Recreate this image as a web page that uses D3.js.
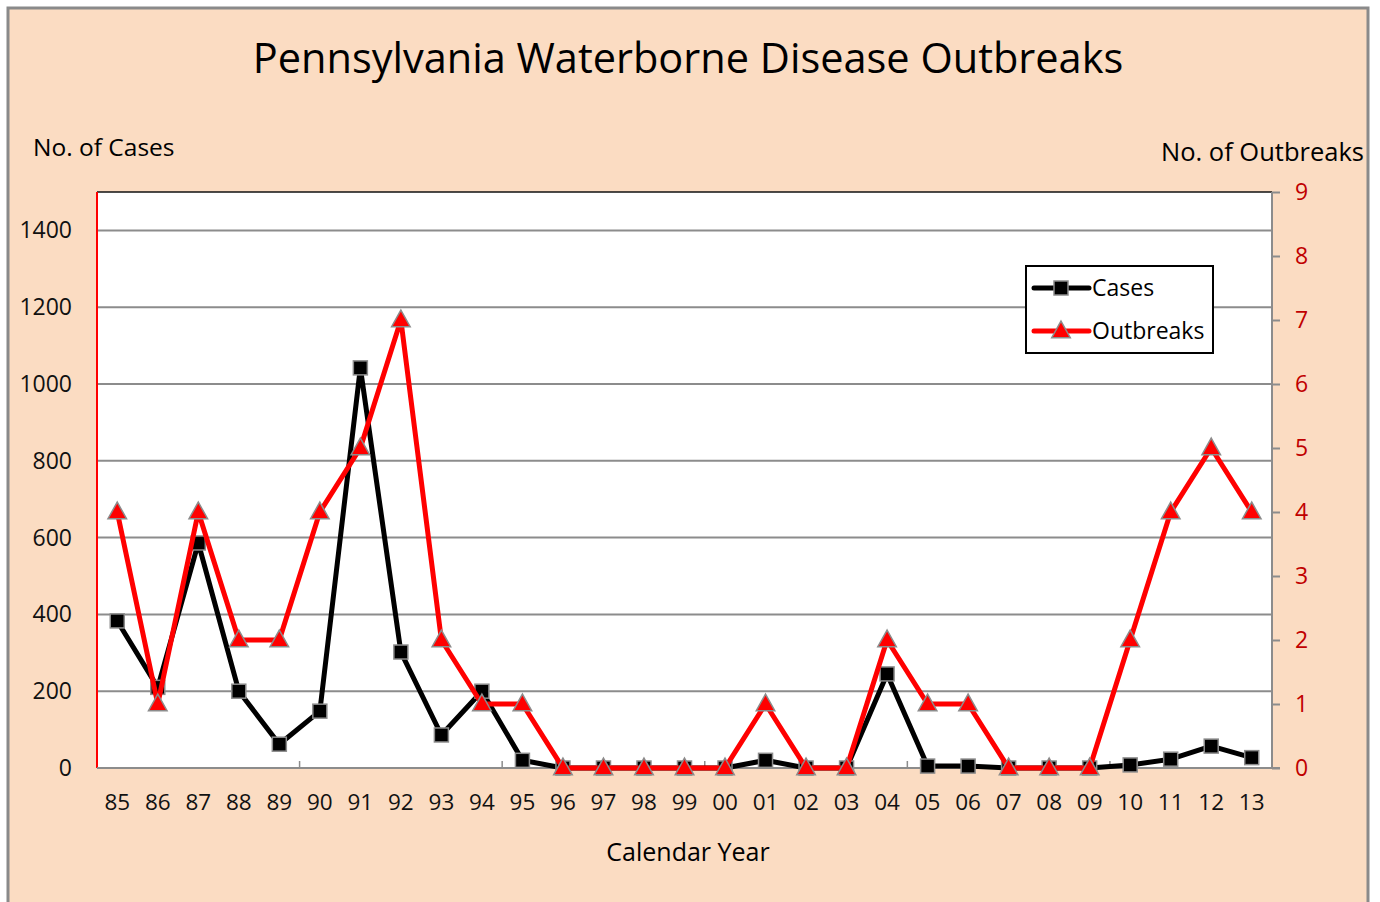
<!DOCTYPE html>
<html>
<head>
<meta charset="utf-8">
<script src="https://cdn.jsdelivr.net/npm/d3@7"></script>
<style>
  html, body { margin: 0; padding: 0; background: #fff; }
  svg { display: block; }
  text { font-family: "Open Sans", "Lato", "DejaVu Sans", sans-serif; }
</style>
</head>
<body>
<script>
const years = ["85","86","87","88","89","90","91","92","93","94","95","96","97","98","99","00","01","02","03","04","05","06","07","08","09","10","11","12","13"];
const cases = [383, 210, 586, 200, 62, 148, 1042, 302, 86, 200, 20, 0, 0, 0, 0, 0, 20, 0, 0, 245, 5, 5, 0, 0, 0, 8, 23, 57, 27];
const outbreaks = [4, 1, 4, 2, 2, 4, 5, 7, 2, 1, 1, 0, 0, 0, 0, 0, 1, 0, 0, 2, 1, 1, 0, 0, 0, 2, 4, 5, 4];
const leftTicks = [0, 200, 400, 600, 800, 1000, 1200, 1400];
const rightTicks = [0, 1, 2, 3, 4, 5, 6, 7, 8, 9];
const seriesNames = ["Cases", "Outbreaks"];

const W = 1380, H = 902;
const L = 97, R = 1272, T = 192, B = 768;
const bg = "#FBDCC2";

const svg = d3.select("body").append("svg").attr("width", W).attr("height", H);
svg.append("rect").attr("width", W).attr("height", H).attr("fill", "#fff");
svg.append("rect").attr("x", 8).attr("y", 8).attr("width", 1360).attr("height", 900)
  .attr("fill", bg).attr("stroke", "#8a8a8a").attr("stroke-width", 3);

// plot area
svg.append("rect").attr("x", L).attr("y", T).attr("width", R - L).attr("height", B - T).attr("fill", "#fff");

const x = d3.scaleBand().domain(years).range([L, R]).padding(0);
const yL = d3.scaleLinear().domain([0, 1500]).range([B, T]);
const yR = d3.scaleLinear().domain([0, 9]).range([B, T]);
const cx = d => x(d) + x.bandwidth() / 2;

// gridlines
svg.append("g").selectAll("line").data(leftTicks.filter(v => v > 0)).join("line")
  .attr("x1", L).attr("x2", R).attr("y1", d => yL(d)).attr("y2", d => yL(d))
  .attr("stroke", "#8c8c8c").attr("stroke-width", 2);

// top border
svg.append("line").attr("x1", L).attr("x2", R).attr("y1", T).attr("y2", T).attr("stroke", "#111").attr("stroke-width", 1.5);

// left axis (red line, labels)
svg.append("line").attr("x1", L).attr("x2", L).attr("y1", T).attr("y2", B).attr("stroke", "#ff0000").attr("stroke-width", 2);
svg.append("g").selectAll("text").data(leftTicks).join("text")
  .attr("x", 72).attr("y", d => yL(d)).attr("dy", "0.35em").attr("text-anchor", "end")
  .attr("font-size", 23).attr("fill", "#111").text(d => d);

// right axis
const rAxis = d3.axisRight(yR).tickValues(rightTicks).tickSize(8).tickPadding(15).tickFormat(d3.format("d"));
const rg = svg.append("g").attr("transform", `translate(${R},0)`).call(rAxis);
rg.select(".domain").attr("stroke", "#8c8c8c").attr("stroke-width", 2).attr("d", `M0,${T}V${B}`);
rg.selectAll(".tick line").attr("stroke", "#8c8c8c").attr("stroke-width", 2);
rg.selectAll(".tick text").attr("fill", "#c00000").attr("font-size", 23)
  .attr("font-family", "\"Open Sans\", sans-serif");

// bottom axis
svg.append("line").attr("x1", L).attr("x2", R + 8).attr("y1", B).attr("y2", B).attr("stroke", "#8c8c8c").attr("stroke-width", 2);
const boundaryIdx = [5, 10, 15, 20, 25];
svg.append("g").selectAll("line").data(boundaryIdx).join("line")
  .attr("x1", i => x(years[i])).attr("x2", i => x(years[i]))
  .attr("y1", B).attr("y2", B - 7).attr("stroke", "#8c8c8c").attr("stroke-width", 1.5);
svg.append("g").selectAll("text").data(years).join("text")
  .attr("x", d => cx(d)).attr("y", 810).attr("text-anchor", "middle")
  .attr("font-size", 22.5).attr("fill", "#111").text(d => d);

const sq = 14;
const triPath = s => `M0,${-s*0.62}L${s*0.58},${s*0.42}L${-s*0.58},${s*0.42}Z`;

// Cases series (drawn first)
const lineC = d3.line().x((d, i) => cx(years[i])).y(d => yL(d));
svg.append("path").datum(cases).attr("d", lineC).attr("fill", "none")
  .attr("stroke", "#000").attr("stroke-width", 5).attr("stroke-linejoin", "round");
svg.append("g").selectAll("rect").data(cases).join("rect")
  .attr("x", (d, i) => cx(years[i]) - sq / 2).attr("y", d => yL(d) - sq / 2)
  .attr("width", sq).attr("height", sq).attr("fill", "#000").attr("stroke", "#8c8c8c").attr("stroke-width", 1.5);

// Outbreaks series (secondary axis, on top)
const lineO = d3.line().x((d, i) => cx(years[i])).y(d => yR(d));
svg.append("path").datum(outbreaks).attr("d", lineO).attr("fill", "none")
  .attr("stroke", "#ff0000").attr("stroke-width", 5).attr("stroke-linejoin", "round");
svg.append("g").selectAll("path").data(outbreaks).join("path")
  .attr("transform", (d, i) => `translate(${cx(years[i])},${yR(d)})`)
  .attr("d", triPath(16)).attr("fill", "#ff0000").attr("stroke", "#8c8c8c").attr("stroke-width", 1.5);

// legend
const lg = svg.append("g");
lg.append("rect").attr("x", 1026).attr("y", 266).attr("width", 187).attr("height", 87)
  .attr("fill", "#fff").attr("stroke", "#000").attr("stroke-width", 2);
const legY = [288, 331];
seriesNames.forEach((name, k) => {
  const yy = legY[k];
  lg.append("line").attr("x1", 1034).attr("x2", 1089).attr("y1", yy).attr("y2", yy)
    .attr("stroke", k === 0 ? "#000" : "#ff0000").attr("stroke-width", 5).attr("stroke-linecap", "round");
  if (k === 0) {
    lg.append("rect").attr("x", 1061 - 7).attr("y", yy - 7).attr("width", 14).attr("height", 14)
      .attr("fill", "#000").attr("stroke", "#8c8c8c").attr("stroke-width", 1.5);
  } else {
    lg.append("path").attr("transform", `translate(1061,${yy})`).attr("d", triPath(16))
      .attr("fill", "#ff0000").attr("stroke", "#8c8c8c").attr("stroke-width", 1.5);
  }
  lg.append("text").attr("x", 1092).attr("y", yy).attr("dy", "0.35em")
    .attr("font-size", 23).attr("fill", "#000").text(name);
});

// titles
svg.append("text").attr("x", 688).attr("y", 73).attr("text-anchor", "middle")
  .attr("font-size", 41.5).attr("fill", "#000").text("Pennsylvania Waterborne Disease Outbreaks");
svg.append("text").attr("x", 33).attr("y", 156).attr("font-size", 24.5).attr("fill", "#000").text("No. of Cases");
svg.append("text").attr("x", 1364).attr("y", 161).attr("text-anchor", "end").attr("font-size", 25.5).attr("fill", "#000").text("No. of Outbreaks");
svg.append("text").attr("x", 688).attr("y", 861).attr("text-anchor", "middle").attr("font-size", 25).attr("fill", "#000").text("Calendar Year");
</script>
</body>
</html>
